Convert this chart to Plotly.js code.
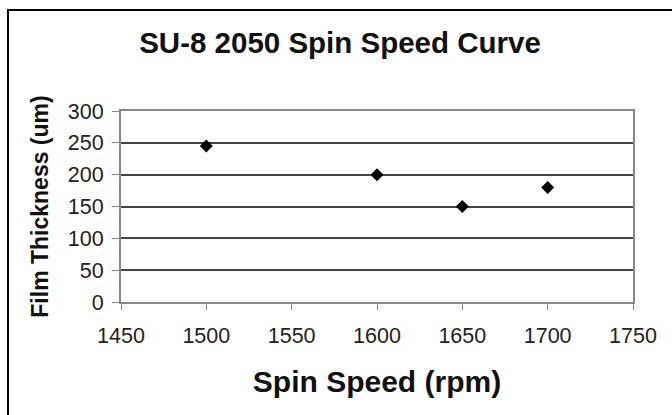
<!DOCTYPE html>
<html>
<head>
<meta charset="utf-8">
<script src="https://cdn.plot.ly/plotly-3.0.1.min.js"></script>
<style>
  html, body { margin: 0; padding: 0; background: #fff; overflow: hidden; }
  #chart { width: 672px; height: 415px; }
</style>
</head>
<body>
<div id="chart"></div>
<script>
// Data
const spinSpeed = [1500, 1600, 1650, 1700];      // rpm
const filmThickness = [245, 200, 150, 180];      // um
const xTicks = [1450, 1500, 1550, 1600, 1650, 1700, 1750];
const yTicks = [0, 50, 100, 150, 200, 250, 300];

const FONT = 'Arial, "Liberation Sans", Helvetica, sans-serif';

const trace = {
  x: spinSpeed,
  y: filmThickness,
  type: 'scatter',
  mode: 'markers',
  marker: { symbol: 'diamond', size: 10, color: '#000' },
  showlegend: false,
  hoverinfo: 'x+y'
};

const W = 672, H = 415;
const L = 121, R = 39, T = 111, B = 113;
const pw = W - L - R, ph = H - T - B;
function px2x(p) { return (p - L) / pw; }
function py2y(p) { return (H - B - p) / ph; }

const fx0 = px2x(8), fx1 = px2x(680), fy0 = py2y(10), fy1 = py2y(430);

const layout = {
  width: W,
  height: H,
  margin: { l: L, r: R, t: T, b: B, pad: 0 },
  paper_bgcolor: '#fff',
  plot_bgcolor: '#fff',
  font: { family: FONT, color: '#111' },
  title: {
    text: '<b>SU-8 2050 Spin Speed Curve</b>',
    font: { family: FONT, size: 29.5, color: '#111' },
    xref: 'paper', x: (340 - L) / pw, xanchor: 'center',
    yref: 'container', y: 1 - 43 / H, yanchor: 'middle'
  },
  xaxis: {
    range: [1450, 1750],
    tickmode: 'array',
    tickvals: xTicks,
    ticktext: xTicks.map(String),
    ticks: 'outside', ticklen: 6, tickwidth: 1, tickcolor: '#888',
    showline: true, linecolor: '#888', linewidth: 2, mirror: true,
    showgrid: false, zeroline: false,
    tickfont: { family: FONT, size: 21.5, color: '#222' },
    ticklabelstandoff: 7,
    title: {
      text: '<b>Spin Speed (rpm)</b>',
      font: { family: FONT, size: 30, color: '#111' },
      standoff: 24
    },
    automargin: false
  },
  yaxis: {
    range: [0, 300],
    tickmode: 'array',
    tickvals: yTicks,
    ticktext: yTicks.map(String),
    ticks: 'outside', ticklen: 7, tickwidth: 1, tickcolor: '#888',
    showline: true, linecolor: '#888', linewidth: 2, mirror: true,
    showgrid: true, gridcolor: '#444', gridwidth: 2, zeroline: false,
    tickfont: { family: FONT, size: 21.5, color: '#222' },
    ticklabelstandoff: 4,
    title: {
      text: '<b>Film Thickness (um)</b>',
      font: { family: FONT, size: 23, color: '#111' },
      standoff: 13
    },
    automargin: false
  },
  shapes: [{
    type: 'path', xref: 'paper', yref: 'paper',
    path: 'M ' + fx1 + ',' + fy0 + ' L ' + fx0 + ',' + fy0 + ' L ' + fx0 + ',' + fy1,
    line: { color: '#000', width: 2 }, layer: 'above'
  }]
};

Plotly.newPlot('chart', [trace], layout, { displayModeBar: false, staticPlot: true });
</script>
</body>
</html>
